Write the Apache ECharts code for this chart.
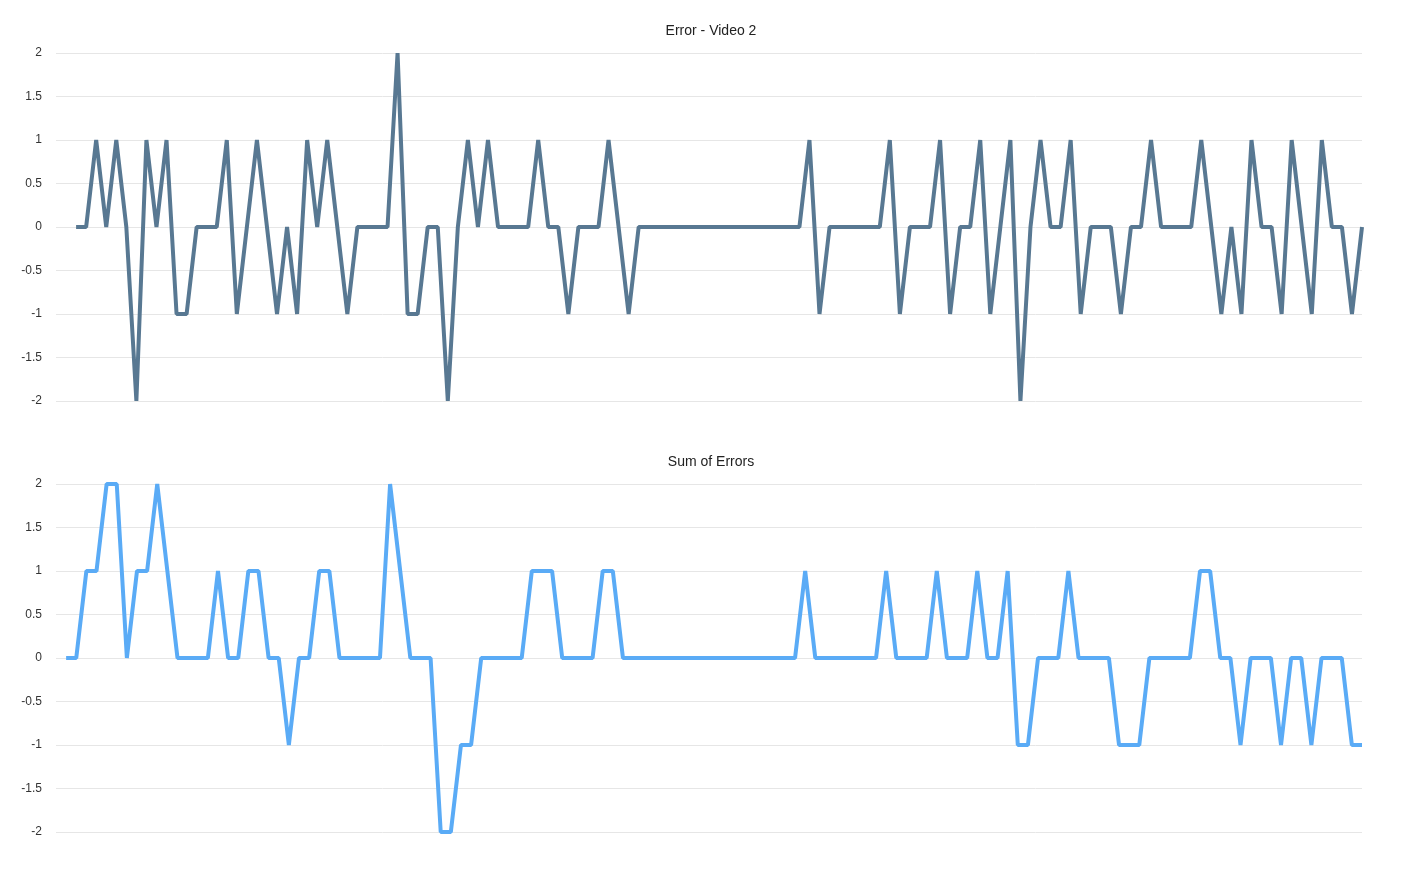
<!DOCTYPE html>
<html>
<head>
<meta charset="utf-8">
<script src="https://cdn.jsdelivr.net/npm/echarts@6/dist/echarts.min.js"></script>
<style>
html,body{margin:0;padding:0;background:#fff;}
#chart{width:1422px;height:884px;}
</style>
</head>
<body>
<div id="chart"></div>
<script>
// Error - Video 2 (129 samples)
var errorVideo2 = [
  0,0,1,0,1,0,-2,1,0,1,
  -1,-1,0,0,0,1,-1,0,1,0,
  -1,0,-1,1,0,1,0,-1,0,0,
  0,0,2,-1,-1,0,0,-2,0,1,
  0,1,0,0,0,0,1,0,0,-1,
  0,0,0,1,0,-1,0,0,0,0,
  0,0,0,0,0,0,0,0,0,0,
  0,0,0,1,-1,0,0,0,0,0,
  0,1,-1,0,0,0,1,-1,0,0,
  1,-1,0,1,-2,0,1,0,0,1,
  -1,0,0,0,-1,0,0,1,0,0,
  0,0,1,0,-1,0,-1,1,0,0,
  -1,1,0,-1,1,0,0,-1,0
];
// Sum of Errors (129 samples)
var sumOfErrors = [
  0,0,1,1,2,2,0,1,1,2,
  1,0,0,0,0,1,0,0,1,1,
  0,0,-1,0,0,1,1,0,0,0,
  0,0,2,1,0,0,0,-2,-2,-1,
  -1,0,0,0,0,0,1,1,1,0,
  0,0,0,1,1,0,0,0,0,0,
  0,0,0,0,0,0,0,0,0,0,
  0,0,0,1,0,0,0,0,0,0,
  0,1,0,0,0,0,1,0,0,0,
  1,0,0,1,-1,-1,0,0,0,1,
  0,0,0,0,-1,-1,-1,0,0,0,
  0,0,1,1,0,0,-1,0,0,0,
  -1,0,0,-1,0,0,0,-1,-1
];
var yTicks = [-2,-1.5,-1,-0.5,0,0.5,1,1.5,2];
var titles = ['Error - Video 2', 'Sum of Errors'];

var topXOffset = 2, bottomXOffset = 1;
var topData = errorVideo2.map(function(v,i){return [i+topXOffset, v];});
var bottomData = sumOfErrors.map(function(v,i){return [i+bottomXOffset, v];});

var chart = echarts.init(document.getElementById('chart'), null, {renderer:'canvas'});
function yAxis(idx){
  return {
    type:'value', gridIndex: idx, min: yTicks[0], max: yTicks[yTicks.length-1], interval: 0.5,
    axisLine:{show:false}, axisTick:{show:false},
    axisLabel:{color:'#333', fontSize:12, margin:14, padding:[3,0,0,0], fontFamily:'Liberation Sans, Arial, sans-serif'},
    splitLine:{lineStyle:{color:'#e6e6e6', width:1}}
  };
}
function xAxis(idx, maxv){
  return {type:'value', gridIndex: idx, min:0, max:maxv, show:false, splitLine:{show:false}};
}
chart.setOption({
  animation:false,
  backgroundColor:'#fff',
  title:[
    {text:titles[0], left:'center', top:19, textStyle:{fontSize:14, fontWeight:'normal', color:'#222', fontFamily:'Liberation Sans, Arial, sans-serif'}},
    {text:titles[1], left:'center', top:450, textStyle:{fontSize:14, fontWeight:'normal', color:'#222', fontFamily:'Liberation Sans, Arial, sans-serif'}}
  ],
  grid:[
    {left:56, right:60, top:53, height:348},
    {left:56, right:60, top:484, height:348}
  ],
  xAxis:[xAxis(0, errorVideo2.length+topXOffset-1), xAxis(1, sumOfErrors.length+bottomXOffset-1)],
  yAxis:[yAxis(0), yAxis(1)],
  series:[
    {type:'line', xAxisIndex:0, yAxisIndex:0, data:topData, showSymbol:false, symbol:'none',
     lineStyle:{color:'#587892', width:4}, itemStyle:{color:'#587892'}},
    {type:'line', xAxisIndex:1, yAxisIndex:1, data:bottomData, showSymbol:false, symbol:'none',
     lineStyle:{color:'#5aabf6', width:4}, itemStyle:{color:'#5aabf6'}}
  ]
});
</script>
</body>
</html>
